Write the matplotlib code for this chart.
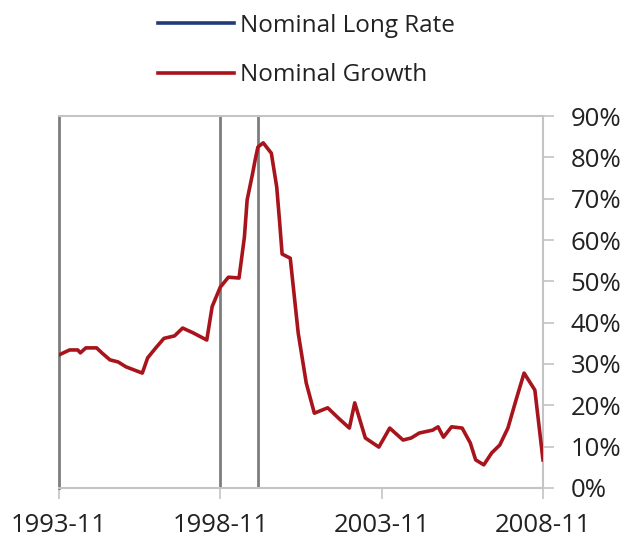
import matplotlib
matplotlib.use("Agg")
import matplotlib.pyplot as plt
import matplotlib.dates as mdates
from matplotlib.lines import Line2D
import pandas as pd

# ---- data ----
growth_dates = [
    "1993-11", "1994-03", "1994-06", "1994-07", "1994-09", "1995-01", "1995-03",
    "1995-06", "1995-09", "1995-12", "1996-06", "1996-08", "1996-11", "1997-02",
    "1997-06", "1997-09", "1998-01", "1998-06", "1998-08", "1998-11", "1999-02",
    "1999-06", "1999-08", "1999-09", "1999-11", "1999-12", "2000-01", "2000-03",
    "2000-06", "2000-08", "2000-09", "2000-10", "2001-01", "2001-04", "2001-07",
    "2001-10", "2002-03", "2002-07", "2002-11", "2003-01", "2003-05", "2003-10",
    "2004-02", "2004-07", "2004-10", "2005-01", "2005-06", "2005-08", "2005-10",
    "2006-01", "2006-05", "2006-08", "2006-10", "2007-01", "2007-04", "2007-07",
    "2007-10", "2008-01", "2008-04", "2008-08", "2008-11",
]
nominal_growth = [
    32.2, 33.4, 33.4, 32.7, 33.9, 33.9, 32.7,
    31.0, 30.5, 29.3, 27.8, 31.5, 33.9, 36.2,
    36.8, 38.7, 37.5, 35.8, 43.9, 48.6, 51.0,
    50.8, 60.7, 69.7, 76.0, 79.4, 82.5, 83.5,
    81.0, 72.8, 64.8, 56.6, 55.6, 37.5, 25.4,
    18.1, 19.4, 16.9, 14.5, 20.6, 12.1, 9.9,
    14.5, 11.6, 12.1, 13.3, 14.0, 14.8, 12.3,
    14.8, 14.5, 10.9, 6.8, 5.6, 8.5, 10.4,
    14.5, 21.3, 27.8, 23.7, 6.8,
]
nominal_long_rate_dates = []
nominal_long_rate = []
event_dates = ["1998-11", "2000-01"]
x_tick_dates = ["1993-11", "1998-11", "2003-11", "2008-11"]
y_ticks = [0, 10, 20, 30, 40, 50, 60, 70, 80, 90]
series_labels = ["Nominal Long Rate", "Nominal Growth"]

# ---- plot ----
plt.rcParams["font.family"] = ["Open Sans", "DejaVu Sans"]
fig = plt.figure(figsize=(6.37, 5.48), dpi=100)
ax = fig.add_axes([0.0926, 0.1095, 0.7598, 0.6788])

gx = pd.to_datetime(growth_dates)
lx = pd.to_datetime(nominal_long_rate_dates)

box_col = "#c4c4c4"
dark_col = "#7d7d7d"
for ev in event_dates:
    ax.axvline(pd.Timestamp(ev), color=dark_col, lw=2.0, zorder=1)

ax.plot(lx, nominal_long_rate, color="#233a7a", lw=2.6, zorder=3)
ax.plot(gx, nominal_growth, color="#a8141c", lw=2.6, zorder=3,
        solid_joinstyle="round")

ax.set_xlim(pd.Timestamp(x_tick_dates[0]), pd.Timestamp(x_tick_dates[-1]))
ax.set_ylim(0, 90)

ax.set_xticks(pd.to_datetime(x_tick_dates))
ax.xaxis.set_major_formatter(mdates.DateFormatter("%Y-%m"))
ax.set_yticks(y_ticks)
ax.set_yticklabels([f"{v}%" for v in y_ticks])
ax.yaxis.tick_right()

for side in ["top", "right", "bottom"]:
    ax.spines[side].set_color(box_col)
    ax.spines[side].set_linewidth(1.5)
ax.spines["left"].set_color(dark_col)
ax.spines["left"].set_linewidth(2.0)

ax.tick_params(axis="y", which="both", direction="out", length=8, width=1.2,
               color=box_col, labelsize=18.5, labelcolor="#222222", pad=12,
               left=False, right=True)
ax.tick_params(axis="x", direction="out", length=8, width=1.2, color=box_col,
               labelsize=18.5, labelcolor="#222222", pad=10)

handles = [Line2D([], [], color="#233a7a", lw=2.6),
           Line2D([], [], color="#a8141c", lw=2.6)]
fig.legend(handles, series_labels, loc="upper left",
           bbox_to_anchor=(0.214, 1.015), frameon=False, fontsize=17.5,
           handlelength=3.1, handletextpad=0.25, labelspacing=1.05,
           labelcolor="#222222")

fig.savefig("out.png", dpi=100)
